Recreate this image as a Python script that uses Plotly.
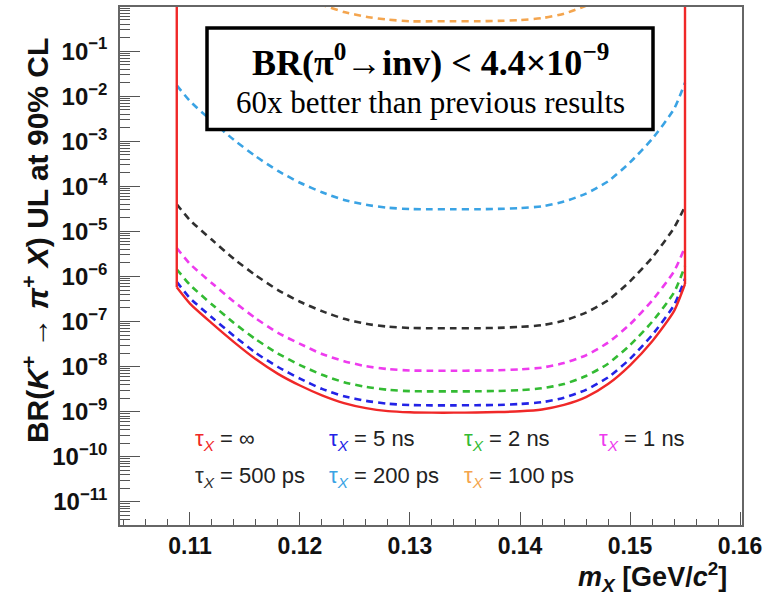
import plotly.graph_objects as go

# Mass of the invisible particle X [GeV/c^2]
mass = [0.1088, 0.110, 0.112, 0.114, 0.116, 0.118, 0.120, 0.122, 0.124, 0.126,
        0.128, 0.130, 0.132, 0.134, 0.136, 0.138, 0.140, 0.142, 0.144, 0.146,
        0.148, 0.150, 0.152, 0.154, 0.155]

# Upper limits on BR(K+ -> pi+ X) at 90% CL for several X lifetimes
ul_inf = [5.75e-7, 2.5e-7, 9.1e-8, 3.5e-8, 1.45e-8, 6.9e-9, 3.8e-9, 2.3e-9, 1.55e-9, 1.2e-9,
          1.03e-9, 9.7e-10, 9.5e-10, 9.5e-10, 9.6e-10, 9.8e-10, 1.02e-9, 1.12e-9, 1.41e-9, 2.1e-9,
          4.1e-9, 1.07e-8, 3.6e-8, 1.7e-7, 6.8e-7]
ul_5ns = [7.6e-7, 3.3e-7, 1.23e-7, 4.8e-8, 2.0e-8, 9.8e-9, 5.4e-9, 3.2e-9, 2.2e-9, 1.74e-9,
          1.5e-9, 1.4e-9, 1.38e-9, 1.38e-9, 1.39e-9, 1.41e-9, 1.48e-9, 1.62e-9, 2.04e-9, 3.05e-9,
          5.75e-9, 1.48e-8, 5.0e-8, 2.3e-7, 8.9e-7]
ul_2ns = [1.45e-6, 6.5e-7, 2.4e-7, 9.3e-8, 4.0e-8, 1.95e-8, 1.08e-8, 6.6e-9, 4.5e-9, 3.55e-9,
          3.05e-9, 2.85e-9, 2.82e-9, 2.82e-9, 2.83e-9, 2.88e-9, 3.0e-9, 3.3e-9, 4.1e-9, 6.2e-9,
          1.16e-8, 3.0e-8, 9.8e-8, 4.4e-7, 1.7e-6]
ul_1ns = [4.3e-6, 1.9e-6, 7.1e-7, 2.75e-7, 1.17e-7, 5.6e-8, 3.2e-8, 1.9e-8, 1.32e-8, 1.02e-8,
          8.8e-9, 8.2e-9, 8.1e-9, 8.1e-9, 8.15e-9, 8.3e-9, 8.7e-9, 9.5e-9, 1.2e-8, 1.78e-8,
          3.4e-8, 8.7e-8, 2.9e-7, 1.3e-6, 4.5e-6]
ul_500ps = [4.0e-5, 1.78e-5, 6.5e-6, 2.45e-6, 1.05e-6, 5.0e-7, 2.75e-7, 1.7e-7, 1.15e-7, 8.9e-8,
            7.7e-8, 7.2e-8, 7.1e-8, 7.1e-8, 7.1e-8, 7.25e-8, 7.6e-8, 8.3e-8, 1.05e-7, 1.58e-7,
            2.95e-7, 7.8e-7, 2.6e-6, 1.2e-5, 3.6e-5]
ul_200ps = [1.74e-2, 7.8e-3, 2.8e-3, 1.07e-3, 4.6e-4, 2.2e-4, 1.2e-4, 7.4e-5, 5.0e-5, 3.9e-5,
            3.35e-5, 3.13e-5, 3.1e-5, 3.1e-5, 3.1e-5, 3.16e-5, 3.3e-5, 3.6e-5, 4.6e-5, 6.9e-5,
            1.29e-4, 3.4e-4, 1.12e-3, 5.2e-3, 2.0e-2]
ul_100ps = [260.0, 115.0, 42.0, 16.0, 6.6, 3.2, 1.74, 1.07, 0.74, 0.58,
            0.50, 0.46, 0.46, 0.46, 0.46, 0.47, 0.49, 0.54, 0.68, 1.02,
            1.95, 5.1, 17.0, 81.0, 320.0]

# The stable-X limit continues vertically up to the top of the frame at the window edges
ul_inf_top = 1.0

lifetimes = ["∞", "5 ns", "2 ns", "1 ns", "500 ps", "200 ps", "100 ps"]
colors = ["#f02828", "#2323e6", "#33bb33", "#ee3bee", "#303030", "#3aa3e4", "#f4a54e"]
series = [ul_inf, ul_5ns, ul_2ns, ul_1ns, ul_500ps, ul_200ps, ul_100ps]

# Axis ticks
x_major = [0.11, 0.12, 0.13, 0.14, 0.15, 0.16]
x_minor = [0.104, 0.106, 0.108, 0.112, 0.114, 0.116, 0.118, 0.122, 0.124, 0.126, 0.128,
           0.132, 0.134, 0.136, 0.138, 0.142, 0.144, 0.146, 0.148, 0.152, 0.154, 0.156, 0.158]
y_exponents = [-11, -10, -9, -8, -7, -6, -5, -4, -3, -2, -1]

fig = go.Figure()

# Dashed limits for finite lifetimes, drawn back to front
for vals, col in reversed(list(zip(series[1:], colors[1:]))):
    fig.add_trace(go.Scatter(x=mass, y=vals, mode="lines",
                             line=dict(color=col, width=2.6, dash="7px,5px", shape="spline", smoothing=0.6),
                             hoverinfo="skip", showlegend=False))

# Solid limit for a stable X, with its vertical edges
fig.add_trace(go.Scatter(x=mass, y=ul_inf, mode="lines",
                         line=dict(color=colors[0], width=2.4, shape="spline", smoothing=0.6),
                         hoverinfo="skip", showlegend=False))
for i in (0, -1):
    fig.add_trace(go.Scatter(x=[mass[i], mass[i]], y=[ul_inf_top, ul_inf[i]], mode="lines",
                             line=dict(color=colors[0], width=2.4),
                             hoverinfo="skip", showlegend=False))

W, H = 773, 595
L, R, T, B = 120, 31, 5, 70
pw, ph = W - L - R, H - T - B


def px(xp):
    return (xp - L) / pw


def py(yp):
    return (H - B - yp) / ph


sans = "Liberation Sans, Arial, Helvetica, sans-serif"
serif = "Liberation Serif, Times New Roman, serif"

minor_y = [k * 10.0 ** e for e in range(-12, 1) for k in range(2, 10)]

fig.update_layout(
    width=W, height=H,
    margin=dict(l=L, r=R, t=T, b=B),
    paper_bgcolor="white", plot_bgcolor="white",
    xaxis=dict(range=[0.10364, 0.16018], tickmode="array", tickvals=x_major,
               ticktext=[f"{v:.2f}" for v in x_major],
               ticks="inside", ticklen=13, tickwidth=1.3, tickcolor="#555",
               minor=dict(tickmode="array", tickvals=x_minor, ticks="inside", ticklen=6,
                          tickwidth=1.2, tickcolor="#555"),
               tickfont=dict(family=sans, size=23, color="#111", weight="bold"),
               showline=True, linecolor="#666", linewidth=1.5, mirror=True,
               showgrid=False, zeroline=False, ticklabelstandoff=0),
    yaxis=dict(type="log", range=[-11.515, -0.02], tickmode="array",
               tickvals=[10.0 ** e for e in y_exponents],
               ticktext=[f"10<sup>−{-e}</sup>" for e in y_exponents],
               ticks="inside", ticklen=20, tickwidth=1.3, tickcolor="#555",
               minor=dict(tickmode="array", tickvals=minor_y, ticks="inside", ticklen=10,
                          tickwidth=1.2, tickcolor="#555"),
               tickfont=dict(family=sans, size=24, color="#111", weight="bold"),
               showline=True, linecolor="#666", linewidth=1.5, mirror=True,
               showgrid=False, zeroline=False, ticklabelstandoff=6),
)


def note(xp, yp, text, size, family=sans, xanchor="center", **kw):
    fig.add_annotation(xref="paper", yref="paper", x=px(xp), y=py(yp), text=text,
                       showarrow=False, xanchor=xanchor, yanchor="middle",
                       font=dict(family=family, size=size, color=kw.pop("color", "#111")), **kw)


# Result box
fig.add_shape(type="rect", xref="paper", yref="paper",
              x0=px(207), x1=px(653), y0=py(128), y1=py(26),
              line=dict(color="black", width=3.5), fillcolor="white", layer="above")
note(430, 59, "<b>BR(π<sup>0</sup>→inv) < 4.4×10<sup>−9</sup></b>", 36, family=serif, color="black")
note(430, 101, "60x better than previous results", 31, family=serif, color="black")

# Lifetime labels
label_pos = [(193, 440), (327, 440), (462, 440), (597, 440),
             (193, 477), (327, 477), (462, 477)]
for (xp, yp), col, lab in zip(label_pos, colors, lifetimes):
    note(xp, yp, f'<span style="color:{col}">τ<sub><i>X</i></sub></span> = {lab}', 22,
         xanchor="left", color="#222")

# Axis titles
note(36, 240, "<b>BR(<i>K</i><sup>+</sup> → <i>π</i><sup>+</sup> <i>X</i>) UL at 90% CL</b>", 30,
     textangle=-90)
note(729, 577, "<b><i>m</i><sub><i>X</i></sub> [GeV/<i>c</i><sup>2</sup>]</b>", 27, xanchor="right")

fig.write_html("out.html")
